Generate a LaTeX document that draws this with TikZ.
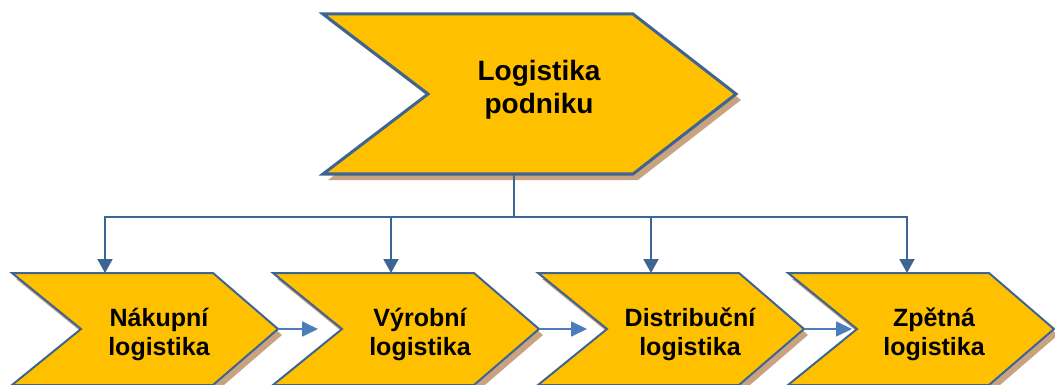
\documentclass[tikz,border=0pt]{standalone}
\usepackage{fontspec}
\setmainfont{Liberation Sans}
\usetikzlibrary{arrows.meta}
\definecolor{gold}{HTML}{FFC000}
\definecolor{rim}{HTML}{3D6594}
\definecolor{flowblue}{HTML}{4A7EBB}
\definecolor{shade}{HTML}{C9A27F}

\tikzset{
  chevfill/.style={fill=gold, draw=rim, line join=miter},
  chevshadow/.style={fill=shade},
  treeline/.style={draw=rim, line width=2pt, line join=miter},
  treearrow/.style={treeline, -{Triangle[width=15pt,length=14pt]}},
  flowarrow/.style={draw=flowblue, line width=1.75pt, -{Triangle[width=15pt,length=16pt]}},
  bigtext/.style={font=\fontsize{28}{33}\selectfont\bfseries, align=center, inner sep=0pt, anchor=base},
  smalltext/.style={font=\fontsize{25}{29.5}\selectfont\bfseries, align=center, inner sep=0pt, anchor=base}
}

% lower chevron: left x, then draws shadow and body
\newcommand{\lowchevron}[1]{%
  \fill[chevshadow] ({#1+4},279) -- ({#1+205},279) -- ({#1+270},335) -- ({#1+205},391)
     -- ({#1+4},391) -- ({#1+73},335) -- cycle;
  \path[chevfill, line width=2pt] (#1,273) -- ({#1+201},273) -- ({#1+266},329) -- ({#1+201},385)
     -- (#1,385) -- ({#1+69},329) -- cycle;
}

\begin{document}
\begin{tikzpicture}[x=1pt, y=-1pt]
\useasboundingbox (0,0) rectangle (1055,385);
\clip (0,0) rectangle (1055,385);

% top chevron
\fill[chevshadow] (328,20) -- (638,20) -- (741,100) -- (638,180) -- (328,180) -- (433,100) -- cycle;
\path[chevfill, line width=3pt] (323,14) -- (633,14) -- (736,94) -- (633,174) -- (323,174) -- (428,94) -- cycle;
% (base anchor sits on the last line)
\node[bigtext] (top) at (539,113.5) {Logistika\\podniku};

% lower chevrons
\lowchevron{12}
\lowchevron{273}
\lowchevron{538}
\lowchevron{788}

\node[smalltext] (n1) at (159,355.5) {Nákupní\\logistika};
\node[smalltext] (n2) at (420,355.5) {Výrobní\\logistika};
\node[smalltext] (n3) at (690,355.5) {Distribuční\\logistika};
\node[smalltext] (n4) at (934,355.5) {Zpětná\\logistika};

% connector points
\coordinate (foot) at (514,174);
\coordinate (split) at (514,217);
\coordinate (in1) at (105,273);
\coordinate (in2) at (391,273);
\coordinate (in3) at (651,273);
\coordinate (in4) at (907,273);
\coordinate (tip1) at (278,329);
\coordinate (tip2) at (539,329);
\coordinate (tip3) at (804,329);
\coordinate (end2) at (318,329);
\coordinate (end3) at (587,329);
\coordinate (end4) at (852,329);

% hierarchy connectors
\draw[treeline] (foot) -- (split);
\draw[treearrow] (split) -| (in1);
\draw[treearrow] (split) -| (in2);
\draw[treearrow] (split) -| (in3);
\draw[treearrow] (split) -| (in4);

% flow between stages
\draw[flowarrow] (tip1) -- (end2);
\draw[flowarrow] (tip2) -- (end3);
\draw[flowarrow] (tip3) -- (end4);
\end{tikzpicture}
\end{document}
